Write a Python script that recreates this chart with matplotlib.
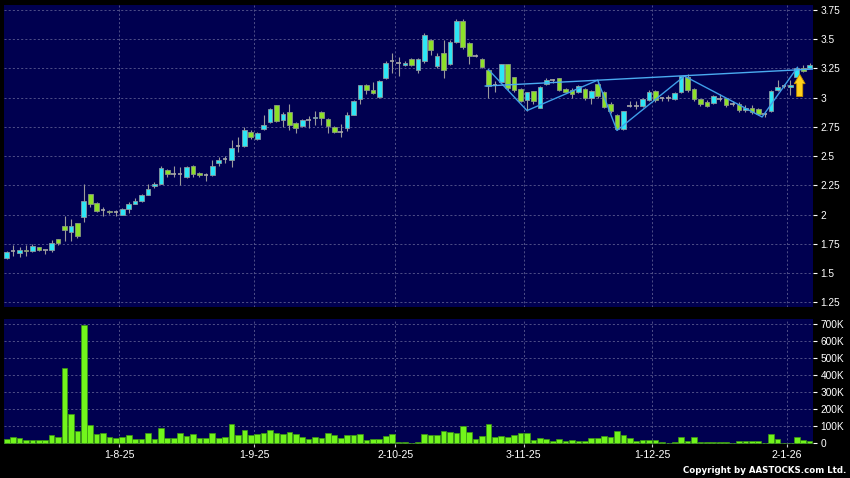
import matplotlib
matplotlib.use('Agg')
import matplotlib.pyplot as plt
import numpy as np
import pandas as pd
from matplotlib.patches import Polygon
from matplotlib.ticker import FuncFormatter

# ---------------- data ----------------
holidays = ['2025-10-01', '2025-10-07', '2025-10-29', '2025-12-25', '2025-12-26', '2026-01-01']
dates = [d for d in pd.bdate_range('2025-07-08', '2026-01-07') if d.strftime('%Y-%m-%d') not in holidays]

opens = [1.63, 1.69, 1.67, 1.70, 1.69, 1.72, 1.70, 1.70, 1.79, 1.90,
         1.855, 1.925, 1.98, 2.175, 2.10, 2.04, 2.035, 2.02, 2.00, 2.05,
         2.095, 2.12, 2.17, 2.245, 2.265, 2.385, 2.35, 2.35, 2.32, 2.42,
         2.36, 2.335, 2.335, 2.445, 2.48, 2.47, 2.59, 2.59, 2.71, 2.65,
         2.735, 2.795, 2.935, 2.81, 2.875, 2.78, 2.755, 2.81, 2.825, 2.875,
         2.82, 2.75, 2.71, 2.74, 2.855, 2.985, 3.11, 3.07, 3.01, 3.165,
         3.31, 3.30, 3.28, 3.335, 3.24, 3.31, 3.49, 3.275, 3.38, 3.29,
         3.48, 3.66, 3.47, 3.36, 3.335, 3.24, 3.11, 3.135, 3.285, 3.18,
         3.075, 2.98, 3.055, 2.915, 3.115, 3.15, 3.165, 3.075, 3.07, 3.05,
         3.075, 2.995, 3.115, 3.05, 2.95, 2.85, 2.73, 2.93, 2.93, 2.93,
         2.98, 3.06, 2.995, 2.995, 2.985, 3.05, 3.18, 3.075, 2.985, 2.965,
         2.955, 2.99, 2.995, 2.95, 2.95, 2.895, 2.915, 2.90, 2.865, 2.885,
         3.07, 3.10, 3.09, 3.18, 3.25, 3.25]
highs = [1.69, 1.74, 1.72, 1.74, 1.75, 1.725, 1.70, 1.78, 1.79, 1.99,
         1.96, 1.93, 2.26, 2.18, 2.105, 2.065, 2.04, 2.04, 2.06, 2.11,
         2.14, 2.18, 2.265, 2.28, 2.415, 2.39, 2.42, 2.41, 2.42, 2.425,
         2.365, 2.36, 2.465, 2.49, 2.50, 2.64, 2.665, 2.75, 2.72, 2.71,
         2.855, 2.91, 2.94, 2.88, 2.945, 2.79, 2.82, 2.84, 2.885, 2.885,
         2.83, 2.755, 2.775, 2.88, 2.98, 3.11, 3.115, 3.135, 3.15, 3.31,
         3.38, 3.35, 3.31, 3.34, 3.34, 3.55, 3.50, 3.38, 3.49, 3.49,
         3.67, 3.67, 3.48, 3.37, 3.34, 3.245, 3.145, 3.29, 3.29, 3.18,
         3.08, 3.05, 3.06, 3.10, 3.17, 3.16, 3.17, 3.08, 3.08, 3.11,
         3.08, 3.07, 3.15, 3.06, 2.96, 2.86, 2.89, 2.97, 2.97, 3.00,
         3.07, 3.07, 3.01, 3.02, 3.05, 3.19, 3.20, 3.08, 2.99, 2.98,
         3.02, 3.03, 3.00, 2.97, 2.96, 2.94, 2.94, 2.91, 2.87, 3.07,
         3.15, 3.12, 3.15, 3.26, 3.28, 3.30]
lows = [1.62, 1.65, 1.64, 1.65, 1.68, 1.69, 1.665, 1.68, 1.74, 1.775,
        1.775, 1.80, 1.94, 2.065, 2.02, 1.99, 2.005, 1.99, 1.995, 2.015,
        2.09, 2.11, 2.165, 2.23, 2.26, 2.32, 2.32, 2.25, 2.31, 2.32,
        2.32, 2.29, 2.33, 2.42, 2.44, 2.41, 2.535, 2.58, 2.65, 2.64,
        2.72, 2.78, 2.79, 2.75, 2.72, 2.695, 2.75, 2.74, 2.765, 2.765,
        2.695, 2.70, 2.66, 2.715, 2.85, 2.945, 3.03, 3.03, 3.00, 3.16,
        3.21, 3.19, 3.27, 3.27, 3.21, 3.30, 3.365, 3.25, 3.165, 3.28,
        3.47, 3.42, 3.29, 3.35, 3.25, 2.995, 3.05, 3.13, 3.07, 3.05,
        2.96, 2.89, 2.95, 2.91, 3.11, 3.13, 3.06, 3.04, 3.00, 3.04,
        2.98, 2.95, 3.00, 2.91, 2.87, 2.72, 2.72, 2.92, 2.90, 2.92,
        2.97, 2.96, 2.97, 2.97, 2.98, 3.04, 3.05, 2.97, 2.93, 2.92,
        2.95, 2.97, 2.92, 2.93, 2.88, 2.88, 2.86, 2.85, 2.835, 2.88,
        3.06, 3.08, 3.02, 3.17, 3.22, 3.25]
closes = [1.68, 1.69, 1.695, 1.69, 1.735, 1.70, 1.70, 1.76, 1.76, 1.865,
          1.90, 1.82, 2.12, 2.09, 2.03, 2.04, 2.02, 2.02, 2.05, 2.095,
          2.12, 2.165, 2.22, 2.26, 2.395, 2.345, 2.35, 2.35, 2.41, 2.35,
          2.335, 2.335, 2.415, 2.465, 2.48, 2.57, 2.59, 2.72, 2.66, 2.70,
          2.77, 2.90, 2.80, 2.865, 2.77, 2.74, 2.81, 2.81, 2.835, 2.825,
          2.76, 2.71, 2.71, 2.855, 2.975, 3.105, 3.065, 3.04, 3.14, 3.30,
          3.31, 3.30, 3.30, 3.28, 3.335, 3.535, 3.41, 3.36, 3.24, 3.48,
          3.66, 3.43, 3.355, 3.36, 3.26, 3.10, 3.11, 3.285, 3.08, 3.065,
          2.975, 3.045, 2.975, 3.095, 3.155, 3.15, 3.065, 3.05, 3.035, 3.10,
          3.00, 3.06, 3.015, 2.92, 2.885, 2.735, 2.885, 2.93, 2.93, 2.985,
          3.045, 2.98, 2.995, 2.995, 3.04, 3.185, 3.065, 2.99, 2.945, 2.93,
          3.015, 2.99, 2.935, 2.95, 2.895, 2.915, 2.88, 2.865, 2.865, 3.06,
          3.095, 3.10, 3.11, 3.255, 3.23, 3.28]
volumes_k = [23.5, 39, 29, 18, 22, 22, 22, 51, 35, 443,
             173, 71, 696, 106, 53, 61, 39, 29, 37, 51,
             27, 27, 61, 27, 88, 31, 33, 59, 43, 57,
             31, 31, 63, 29, 37, 112, 51, 78, 47, 53,
             63, 78, 63, 57, 65, 57, 39, 25, 35, 29,
             61, 47, 33, 47, 51, 57, 22, 25, 27, 41,
             55, 8, 6, 4, 8, 55, 49, 51, 75, 67,
             63, 100, 69, 25, 41, 114, 35, 45, 35, 51,
             59, 59, 18, 31, 27, 16, 24, 12, 22, 12,
             12, 29, 29, 43, 37, 71, 51, 29, 16, 22,
             18, 20, 6, 4, 6, 37, 16, 35, 6, 6,
             6, 6, 6, 4, 16, 16, 16, 16, 4, 53,
             24, 4, 4, 37, 22, 12]

zigzag_idx = [75, 81, 92, 95, 105.5, 117.6, 123.1]
zigzag_price = [3.24, 2.89, 3.15, 2.72, 3.185, 2.835, 3.26]
trend_idx = [74.5, 125.5]
trend_price = [3.10, 3.245]
signal_idx = 123.45
signal_top = 3.20
signal_bottom = 3.01

price_ticks = [1.25, 1.5, 1.75, 2.0, 2.25, 2.5, 2.75, 3.0, 3.25, 3.5, 3.75]
volume_ticks_k = [0, 100, 200, 300, 400, 500, 600, 700]

# ---------------- style ----------------
BG = '#000050'
GRID = '#5a5a90'
UP = '#2de6f5'
DOWN = '#8de02a'
WICK = '#9a9a9a'
VOL = '#72f51c'
FONT = ['Liberation Sans', 'DejaVu Sans']

x = np.arange(len(dates))
o = np.array(opens); h = np.array(highs); l = np.array(lows); c = np.array(closes)
v = np.array(volumes_k) * 1000

# month-start ticks
tick_pos, tick_lab = [], []
for i, d in enumerate(dates):
    if i > 0 and d.month != dates[i - 1].month:
        tick_pos.append(i - 0.5)
        tick_lab.append(f"{d.day}-{d.month}-{d.year % 100}")

fig = plt.figure(figsize=(8.5, 4.78), dpi=100, facecolor='black')
W, H = 850, 478
ax1 = fig.add_axes([4 / W, 1 - 307 / H, 809 / W, 302 / H])
ax2 = fig.add_axes([4 / W, 1 - 443.5 / H, 809 / W, 124.5 / H])

for ax in (ax1, ax2):
    ax.set_facecolor(BG)
    for s in ax.spines.values():
        s.set_visible(False)
    ax.set_xlim(-0.42, 125.52)
    ax.set_xticks(tick_pos)
    ax.yaxis.tick_right()
    ax.tick_params(axis='y', colors='white', labelcolor='white', length=3, width=0.8,
                   pad=2.5, labelsize=7.3)
    ax.tick_params(axis='x', colors='#cccccc', labelcolor='white', length=2.5, width=0.8,
                   pad=2, labelsize=7.6)
    ax.grid(True, color=GRID, linestyle=(0, (2.5, 2.5)), linewidth=0.6)
    ax.set_axisbelow(True)
    for lab in ax.get_yticklabels() + ax.get_xticklabels():
        lab.set_family(FONT)

# --- price panel ---
ax1.set_ylim(1.21, 3.793)
ax1.set_yticks(price_ticks)
ax1.yaxis.set_major_formatter(FuncFormatter(lambda val, p: f"{val:g}"))
ax1.tick_params(axis='x', length=0, labelbottom=False)

ax1.vlines(x, l, h, color=WICK, linewidth=0.8, zorder=2)
up = c > o
dn = c < o
dj = c == o
bw = 0.72
ax1.bar(x[up], (c - o)[up], bottom=o[up], width=bw, color=UP, edgecolor='#8a9aa0',
        linewidth=0.6, zorder=3)
ax1.bar(x[dn], (o - c)[dn], bottom=c[dn], width=bw, color=DOWN, edgecolor='#8a9a80',
        linewidth=0.6, zorder=3)
ax1.hlines(c[dj], x[dj] - bw / 2, x[dj] + bw / 2, color='#a8a8a8', linewidth=1.2, zorder=3)

ax1.plot(zigzag_idx, zigzag_price, color='#3f9ee8', linewidth=1.0, zorder=4)
ax1.plot(trend_idx, trend_price, color='#4aaaf0', linewidth=1.0, zorder=4)

# signal arrow
hw, sw = 0.85, 0.47
head_base = signal_top - 0.08
arrow = Polygon([(signal_idx, signal_top), (signal_idx + hw, head_base),
                 (signal_idx + sw, head_base), (signal_idx + sw, signal_bottom),
                 (signal_idx - sw, signal_bottom), (signal_idx - sw, head_base),
                 (signal_idx - hw, head_base)], closed=True,
                facecolor='#ffd21a', edgecolor='#c89000', linewidth=0.6, zorder=5)
ax1.add_patch(arrow)

# --- volume panel ---
ax2.set_ylim(-1000, 731000)
ax2.set_yticks([t * 1000 for t in volume_ticks_k])
ax2.yaxis.set_major_formatter(FuncFormatter(lambda val, p: '0' if val == 0 else f"{int(val / 1000)}K"))
ax2.set_xticklabels(tick_lab)
for lab in ax2.get_xticklabels() + ax2.get_yticklabels():
    lab.set_family(FONT)
ax2.bar(x, v, width=0.88, color=VOL, edgecolor='#3c9a10', linewidth=0.5, zorder=3)

fig.text(846 / W, 3 / H, 'Copyright by AASTOCKS.com Ltd.', ha='right', va='bottom',
         color='white', fontsize=6.2, fontweight='bold', family='DejaVu Sans')

fig.savefig('out.png', dpi=100, facecolor='black')
